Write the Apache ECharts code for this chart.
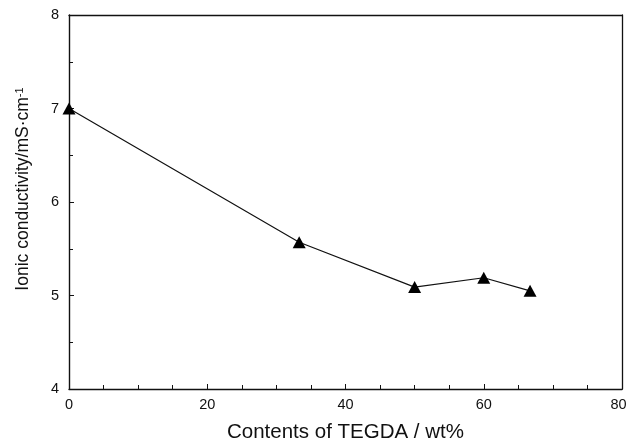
<!DOCTYPE html>
<html>
<head>
<meta charset="utf-8">
<script src="https://cdn.jsdelivr.net/npm/echarts@6/dist/echarts.min.js"></script>
<style>html,body{margin:0;padding:0;background:#fff}#c{width:628px;height:445px}</style>
</head>
<body>
<div id="c"></div>
<script>
var tegda = [0, 33.3, 50, 60, 66.7];
var conductivity = [7.0, 5.57, 5.09, 5.19, 5.05];
var xTicks = [0, 20, 40, 60, 80];
var yTicks = [4, 5, 6, 7, 8];

var chart = echarts.init(document.getElementById('c'));
var font = '"Liberation Sans", Arial, sans-serif';
var data = tegda.map(function (x, i) { return [x, conductivity[i]]; });
var xMax = xTicks[xTicks.length - 1];
chart.setOption({
  animation: false,
  backgroundColor: '#fff',
  grid: { left: 69, right: 6, top: 15, bottom: 56, outerBoundsMode: 'none', containLabel: false },
  xAxis: [{
    type: 'value', min: xTicks[0], max: xMax, interval: 20,
    name: 'Contents of TEGDA / wt%', nameLocation: 'middle', nameGap: 33,
    nameTextStyle: { fontFamily: font, fontSize: 20.5, color: '#111', verticalAlign: 'top' },
    axisLine: { lineStyle: { color: '#111', width: 1.4 } },
    axisTick: { inside: true, length: 5, lineStyle: { color: '#111' } },
    minorTick: { show: true, splitNumber: 4, length: 4, lineStyle: { color: '#111' } },
    axisLabel: {
      fontFamily: font, fontSize: 14.5, color: '#111', margin: 8,
      formatter: function (v) { return v === xMax ? '{r|' + v + '}' : String(v); },
      rich: { r: { fontFamily: font, fontSize: 14.5, color: '#111', padding: [0, 7, 0, 0] } }
    },
    splitLine: { show: false }
  }, {
    type: 'value', position: 'top', min: 0, max: 80,
    axisLine: { show: true, onZero: false, lineStyle: { color: '#111', width: 1.3 } },
    axisTick: { show: false }, axisLabel: { show: false }, splitLine: { show: false }
  }],
  yAxis: [{
    type: 'value', min: yTicks[0], max: yTicks[yTicks.length - 1], interval: 1,
    name: '{a|Ionic conductivity/mS·cm}{s|-1}', nameLocation: 'middle', nameGap: 36,
    nameTextStyle: {
      fontFamily: font, fontSize: 17.5, color: '#111', padding: [0, 0, 0, 26],
      rich: {
        a: { fontFamily: font, fontSize: 17.5, color: '#111' },
        s: { fontFamily: font, fontSize: 11, color: '#111', verticalAlign: 'top', padding: [0, 0, 8, 0] }
      }
    },
    axisLine: { show: true, lineStyle: { color: '#111', width: 1.4 } },
    axisTick: { inside: true, length: 5, lineStyle: { color: '#111' } },
    minorTick: { show: true, splitNumber: 2, length: 4, lineStyle: { color: '#111' } },
    axisLabel: { fontFamily: font, fontSize: 14.5, color: '#111', margin: 10 },
    splitLine: { show: false }
  }, {
    type: 'value', position: 'right', min: 4, max: 8,
    axisLine: { show: true, onZero: false, lineStyle: { color: '#111', width: 1.3 } },
    axisTick: { show: false }, axisLabel: { show: false }, splitLine: { show: false }
  }],
  series: [{
    type: 'line', data: data,
    symbol: 'triangle', symbolSize: [13, 12],
    lineStyle: { color: '#111', width: 1.2 },
    itemStyle: { color: '#000' }
  }]
});
</script>
</body>
</html>
